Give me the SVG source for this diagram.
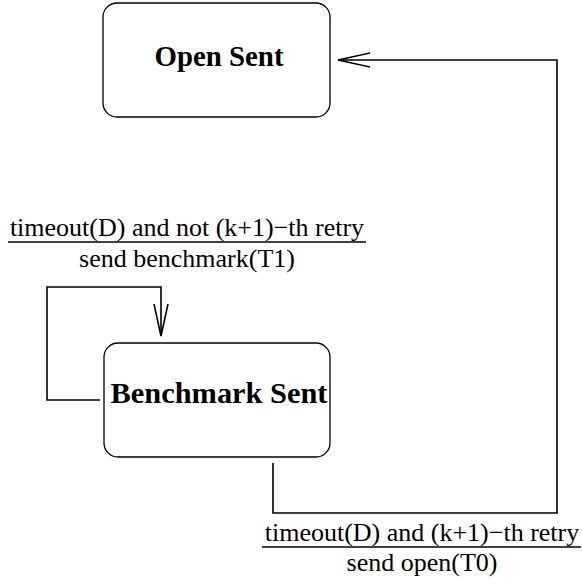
<svg xmlns="http://www.w3.org/2000/svg" width="582" height="587" viewBox="0 0 582 587">
<style>
.box{fill:#fff;stroke:#000;stroke-width:1.3}
.title{font-family:'Liberation Serif',serif;font-weight:bold;font-size:29px;text-anchor:middle;fill:#000}
.lbl{font-family:'Liberation Serif',serif;font-size:26px;text-anchor:middle;fill:#000}
.wire{fill:none;stroke:#000;stroke-width:1.6}
.ul{stroke:#000;stroke-width:1.6}
</style>
<defs>
<marker id="open" markerWidth="34" markerHeight="18" refX="32" refY="9" orient="auto" markerUnits="userSpaceOnUse">
<path d="M0,2 L32,9 L0,16" fill="none" stroke="#000" stroke-width="1.6"/>
</marker>
</defs>
<rect width="582" height="587" fill="#fff"/>
<g id="open-sent">
<rect class="box" x="103" y="3" width="227" height="114" rx="14"/>
<text class="title" x="219" y="66" textLength="129" lengthAdjust="spacingAndGlyphs">Open Sent</text>
</g>
<g id="benchmark-sent">
<rect class="box" x="104" y="343" width="226" height="114" rx="14"/>
<text class="title" x="219" y="403" textLength="217" lengthAdjust="spacingAndGlyphs">Benchmark Sent</text>
</g>
<g id="connectors">
<path class="wire" d="M273,463 V513 H557 V60 H338" marker-end="url(#open)"/>
<path class="wire" d="M100,400 H47 V287 H161 V336" marker-end="url(#open)"/>
</g>
<g id="labels">
<text class="lbl" x="187" y="236">timeout(D) and not (k+1)−th retry</text>
<line class="ul" x1="8" y1="242" x2="366" y2="242"/>
<text class="lbl" x="187" y="267">send benchmark(T1)</text>
<text class="lbl" x="422" y="541">timeout(D) and (k+1)−th retry</text>
<line class="ul" x1="262" y1="547" x2="581" y2="547"/>
<text class="lbl" x="422" y="571">send open(T0)</text>
</g>
</svg>
